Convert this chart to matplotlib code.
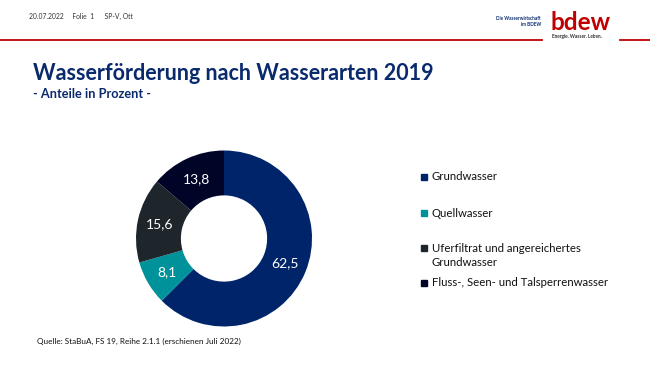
import matplotlib
matplotlib.use("Agg")
import matplotlib.pyplot as plt
from matplotlib.patches import Rectangle
from matplotlib.lines import Line2D
import numpy as np

plt.rcParams['font.family'] = ['Lato', 'DejaVu Sans']

categories = ["Grundwasser", "Quellwasser",
              "Uferfiltrat und angereichertes\nGrundwasser",
              "Fluss-, Seen- und Talsperrenwasser"]
values = [62.5, 8.1, 15.6, 13.8]
value_labels = ["62,5", "8,1", "15,6", "13,8"]
colors = ["#002469", "#00929B", "#1E252B", "#000426"]

W, H = 650, 365
fig = plt.figure(figsize=(W / 100, H / 100), dpi=100)
fig.patch.set_facecolor("white")

def fx(x):
    return x / W

def fy(y):
    return 1 - y / H

navy = "#0A2A6E"
red = "#C00000"

# header
fig.text(fx(29), fy(16), "20.07.2022     Folie  1      SP-V, Ott", fontsize=4.9,
         color="#333333", va="center", ha="left")
fig.add_artist(Line2D([0, fx(542)], [fy(40), fy(40)], color=red, lw=1.3))
fig.add_artist(Line2D([fx(620), 1], [fy(40), fy(40)], color=red, lw=1.3))
fig.text(fx(541), fy(18), "Die Wasserwirtschaft", fontsize=3.3, color=navy,
         weight="bold", ha="right", va="center")
fig.text(fx(541), fy(24.5), "im BDEW", fontsize=3.3, color=navy,
         weight="bold", ha="right", va="center")
fig.text(fx(550), fy(30), "bdew", fontsize=17.5, color=red, weight="bold",
         ha="left", va="baseline")
fig.text(fx(552), fy(36.5), "Energie. Wasser. Leben.", fontsize=3.4, color="#333333",
         weight="bold", ha="left", va="center")

# titles
fig.text(fx(33), fy(73), "Wasserförderung nach Wasserarten 2019", fontsize=15.5,
         color=navy, weight="bold", ha="left", va="center")
fig.text(fx(33), fy(94), "- Anteile in Prozent -", fontsize=9.2,
         color=navy, weight="bold", ha="left", va="center")

# donut
ax = fig.add_axes([fx(136), fy(326.5), 176 / W, 176 / H])
ax.pie(values, colors=colors, startangle=90, counterclock=False,
       radius=1.0, wedgeprops=dict(width=0.51, edgecolor="none"))
cum = 90
for v, lab in zip(values, value_labels):
    ang = np.deg2rad(cum - v / 100 * 360 / 2)
    cum -= v / 100 * 360
    r = 0.745
    ax.text(r * np.cos(ang), r * np.sin(ang), lab, color="white", fontsize=10,
            ha="center", va="center")
ax.set_xlim(-1, 1)
ax.set_ylim(-1, 1)
ax.set_aspect("equal")
ax.axis("off")

# legend
leg_y = [177, 213, 248, 283]
for cat, col, y in zip(categories, colors, leg_y):
    fig.add_artist(Rectangle((fx(421), fy(y + 3)), 6 / W, 6 / H, color=col,
                             transform=fig.transFigure))
    lines = cat.split("\n")
    for i, line in enumerate(lines):
        fig.text(fx(432), fy(y + 15 * i), line, fontsize=8.2, color="#111111",
                 ha="left", va="center")

# source
fig.text(fx(37), fy(341), "Quelle: StaBuA, FS 19, Reihe 2.1.1 (erschienen Juli 2022)",
         fontsize=5.9, color="#111111", ha="left", va="center")

fig.savefig("out.png", dpi=100, facecolor="white")
